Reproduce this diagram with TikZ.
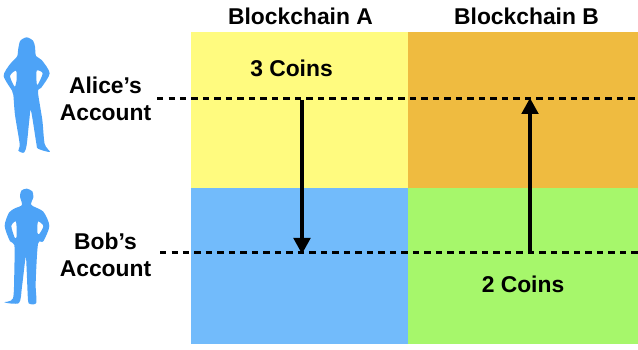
\documentclass[tikz,border=0pt]{standalone}
\usepackage{fontspec}
\setmainfont{Liberation Sans}
\usetikzlibrary{arrows.meta}

\definecolor{cellyellow}{HTML}{FFFB7F}
\definecolor{cellorange}{HTML}{EFBB40}
\definecolor{cellblue}{HTML}{72BBFB}
\definecolor{cellgreen}{HTML}{A6F76B}
\definecolor{personblue}{HTML}{4DA3F7}

\begin{document}
\begin{tikzpicture}[x = 0.02cm, y = -0.02cm,
  cellA/.style = {inner sep=0pt, outer sep=0pt, minimum width=4.34cm, minimum height=3.12cm},
  cellB/.style = {inner sep=0pt, outer sep=0pt, minimum width=4.6cm, minimum height=3.12cm},
  label/.style = {font=\bfseries\fontsize{13}{13}\selectfont, inner sep=0pt, align=center},
  account/.style = {dash pattern=on 0.125cm off 0.105cm, line width=0.05cm},
  transfer/.style = {line width=0.07cm, -{Triangle[length=0.32cm, width=0.33cm]}},
  person/.style = {fill=personblue, even odd rule, x=0.00667cm, y=-0.00667cm}]

\useasboundingbox (0,0) rectangle (638,350);

\node[cellA, fill=cellyellow] (AA) at (299.5,110) {};
\node[cellB, fill=cellorange] (AB) at (523,110) {};
\node[cellA, fill=cellblue] (BA) at (299.5,266) {};
\node[cellB, fill=cellgreen] (BB) at (523,266) {};

\node[label] (chainA) at (300.5,16) {Blockchain A};
\node[label] (chainB) at (526.5,16) {Blockchain B};
\node[label] (alice) at (105.5,98.5) {Alice’s\\[2.5pt]Account};
\node[label] (bob) at (105.5,255) {Bob’s\\[2.5pt]Account};
\node[label] (coinsA) at (291.5,68) {3 Coins};
\node[label] (coinsB) at (523,284) {2 Coins};

\coordinate (aliceL) at (157,98.5);
\coordinate (aliceR) at (638,98.5);
\coordinate (bobL) at (160,252.5);
\coordinate (bobR) at (638,252.5);
\coordinate (downS) at (302,100);
\coordinate (downE) at (302,254);
\coordinate (upS) at (530,252.5);
\coordinate (upE) at (530,98);

\draw[account] (aliceL) -- (aliceR);
\draw[account] (bobL) -- (bobR);
\draw[transfer] (downS) -- (downE);
\draw[transfer] (upS) -- (upE);

% Alice
\fill[person, shift={(0cm,-0.4cm)}] plot[smooth cycle, tension=0.45] coordinates {
  (80,52) (61,62) (55,85) (52,108) (42,120) (28,135) (11,168) (36,212) (40,225) (45,285)
  (59,372) (55,392) (72,398) (80,375) (88,300) (93,272) (109,370) (114,386) (150,396) (134,372)
  (127,300) (114,216) (124,203) (149,160) (125,120) (108,108) (105,80) (99,62)}
  plot[smooth cycle, tension=0.45] coordinates {(30,168) (48,152) (50,178) (44,200)}
  plot[smooth cycle, tension=0.45] coordinates {(128,160) (110,152) (110,190) (114,193)};

% Bob
\fill[person, shift={(0cm,-3.4cm)}] plot[smooth cycle, tension=0.45] coordinates {
  (80,56) (64,62) (60,80) (66,105) (45,115) (27,128) (14,168) (30,214) (43,225) (43,300)
  (39,385) (13,397) (57,399) (66,350) (77,262) (80,300) (84,390) (90,402) (109,398) (107,340)
  (114,222) (130,214) (148,168) (130,125) (94,105) (100,82) (97,64)}
  plot[smooth cycle, tension=0.45] coordinates {(34,168) (48,155) (50,200) (44,203)}
  plot[smooth cycle, tension=0.45] coordinates {(130,168) (114,155) (112,188) (118,192)};

\end{tikzpicture}
\end{document}
